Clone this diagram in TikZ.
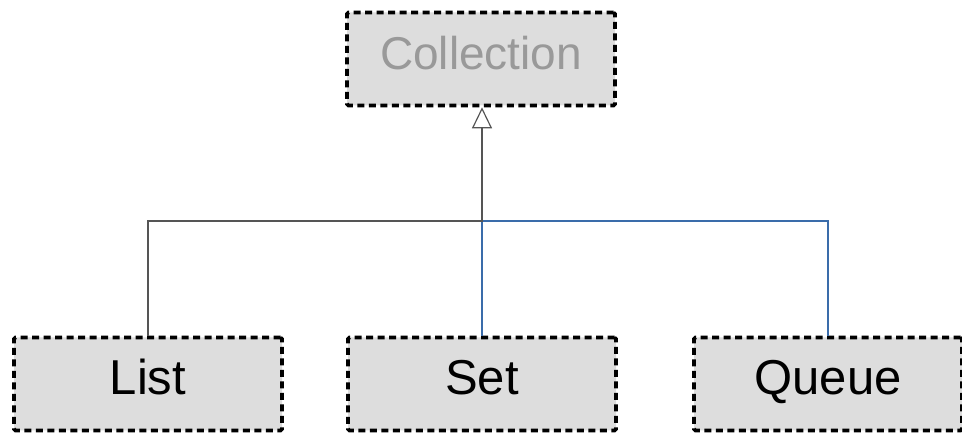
\documentclass[tikz,border=0pt]{standalone}
\usepackage{fontspec}
\setmainfont{Liberation Sans}
\usetikzlibrary{arrows.meta}
\definecolor{boxfill}{HTML}{DDDDDD}
\definecolor{greytext}{HTML}{999999}
\definecolor{linegrey}{HTML}{555555}
\definecolor{lineblue}{HTML}{3A6CAA}
\tikzset{
  classbox/.style={draw=black, fill=boxfill, line width=3.6pt, dash pattern=on 7pt off 4.5pt,
    rounded corners=1.5pt, minimum width=268pt, minimum height=93pt, inner sep=0pt,
    text height=35pt, text depth=13pt,
    font=\fontsize{49}{58}\selectfont},
  greyline/.style={draw=linegrey, line width=1.2pt},
  blueline/.style={draw=lineblue, line width=1.2pt},
}
\begin{document}
\begin{tikzpicture}[x=1pt,y=-1pt]
\useasboundingbox (0,0) rectangle (962,435);
\node[classbox, text=greytext, font=\fontsize{46}{55}\selectfont] (coll) at (481,59) {Collection};
\node[classbox] (list) at (148,384) {List};
\node[classbox] (set) at (482,384) {Set};
\node[classbox] (queue) at (828,384) {Queue};
\coordinate (j) at (482,221);
\coordinate (b) at (482,146);
\draw[blueline] (set.north) -- (b);
\draw[blueline] (queue.north) |- (j);
\draw[greyline, -{Triangle[open, length=21pt, width=20pt, line width=1.2pt]}] (list.north) |- (j) -- (j |- coll.south);
\end{tikzpicture}
\end{document}
